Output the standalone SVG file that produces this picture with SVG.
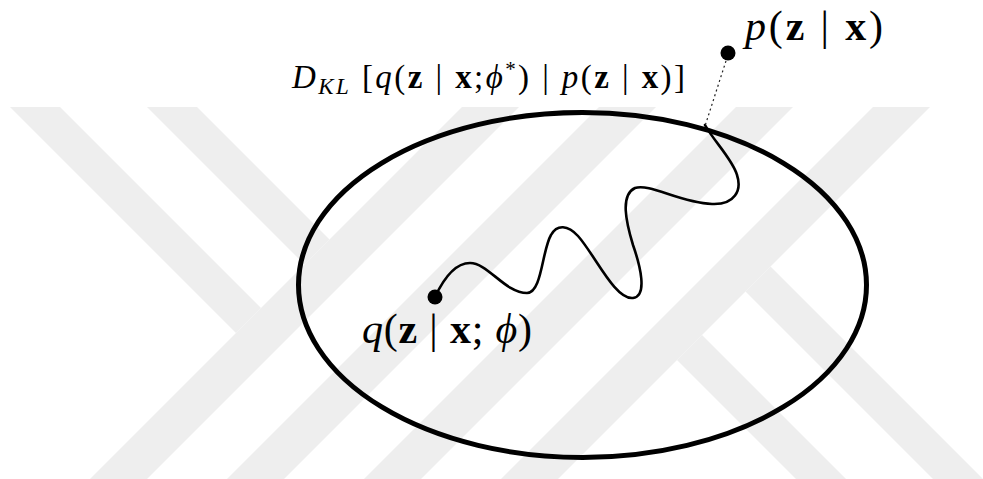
<svg xmlns="http://www.w3.org/2000/svg" width="983" height="479" viewBox="0 0 983 479">
<style>
.wm{fill:#eeeeee;stroke:none}
.lbl{font-family:"Liberation Serif","DejaVu Serif",serif;fill:#000}
.it{font-style:italic}
.bf{font-weight:bold}
.dot{fill:#000}
.wig{fill:none;stroke:#000;stroke-width:2.6;stroke-linecap:round;stroke-linejoin:round}
.dotted{fill:none;stroke:#222;stroke-width:1.2;stroke-dasharray:2 3}
</style>
<rect width="983" height="479" fill="#fff"/>
<g id="watermark">
<polygon class="wm" points="462,107 519,107 126,500 69,500"/>
<polygon class="wm" points="599,107 656,107 263,500 206,500"/>
<polygon class="wm" points="736,107 793,107 400,500 343,500"/>
<polygon class="wm" points="873,107 930,107 537,500 480,500"/>
<polygon class="wm" points="10,107 60,107 261,308 236,333"/>
<polygon class="wm" points="147,107 197,107 329.5,239.5 304.5,264.5"/>
<polygon class="wm" points="745.5,291.5 770.5,266.5 997,493 947,493"/>
<polygon class="wm" points="677,360 702,335 860,493 810,493"/>
</g>
<g id="region">
<ellipse cx="582.5" cy="285" rx="284" ry="172.5" fill="none" stroke="#000" stroke-width="5"/>
</g>
<g id="connectors">
<path class="wig" d="M435,297 C443,280 455,263 470,263 C488,263 505,293 527,293 C542,293 542,250 551,235 C557,224 568,225 578,236 C595,255 615,300 633,298 C648,296 640,265 633,245 C626,222 620,195 635,188 C650,183 680,203 712,204 C735,205 742,190 737,175 C733,160 713,140 705,125"/>
<line class="dotted" x1="726" y1="61" x2="705" y2="126"/>
</g>
<g id="node-q">
<circle class="dot" cx="435" cy="297" r="7.5"/>
<text class="lbl" x="362" y="343" font-size="42" textLength="170" lengthAdjust="spacing"><tspan class="it">q</tspan>(<tspan class="bf">z</tspan> | <tspan class="bf">x</tspan>; <tspan class="it">ϕ</tspan>)</text>
</g>
<g id="node-p">
<circle class="dot" cx="728" cy="53" r="7.5"/>
<text class="lbl" x="745" y="40" font-size="42" textLength="138" lengthAdjust="spacing"><tspan class="it">p</tspan>(<tspan class="bf">z</tspan> | <tspan class="bf">x</tspan>)</text>
</g>
<g id="label-kl">
<text class="lbl" x="292" y="88" font-size="33" textLength="393" lengthAdjust="spacing"><tspan class="it">D</tspan><tspan class="it" font-size="23" dy="6">KL</tspan><tspan dy="-6"> [</tspan><tspan class="it">q</tspan>(<tspan class="bf">z</tspan> | <tspan class="bf">x</tspan>;<tspan class="it">ϕ</tspan><tspan font-size="21" dy="-12">*</tspan><tspan dy="12">) | </tspan><tspan class="it">p</tspan>(<tspan class="bf">z</tspan> | <tspan class="bf">x</tspan>)]</text>
</g>
</svg>
